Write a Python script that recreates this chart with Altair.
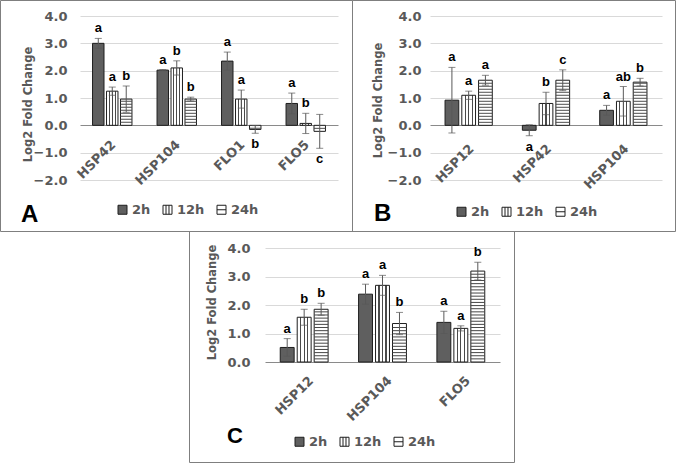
import altair as alt
import numpy as np
import pandas as pd

TIMES = ["2h", "12h", "24h"]

# Panel A
A_GENES = ["HSP42", "HSP104", "FLO1", "FLO5"]
A_2H = [3.00, 2.02, 2.35, 0.80]
A_2H_ERR = [0.18, 0.02, 0.33, 0.38]
A_2H_LET = ["a", "a", "a", "a"]
A_12H = [1.25, 2.10, 0.96, 0.07]
A_12H_ERR = [0.15, 0.26, 0.33, 0.37]
A_12H_LET = ["a", "b", "a", "b"]
A_24H = [0.96, 0.96, -0.15, -0.22]
A_24H_ERR = [0.48, 0.07, 0.14, 0.62]
A_24H_LET = ["b", "b", "b", "c"]

# Panel B
B_GENES = ["HSP12", "HSP42", "HSP104"]
B_2H = [0.92, -0.18, 0.55]
B_2H_ERR = [1.20, 0.20, 0.18]
B_2H_LET = ["a", "a", "a"]
B_12H = [1.10, 0.80, 0.88]
B_12H_ERR = [0.15, 0.41, 0.54]
B_12H_LET = ["a", "b", "ab"]
B_24H = [1.65, 1.65, 1.58]
B_24H_ERR = [0.18, 0.38, 0.14]
B_24H_LET = ["a", "c", "b"]

# Panel C
C_GENES = ["HSP12", "HSP104", "FLO5"]
C_2H = [0.51, 2.38, 1.39]
C_2H_ERR = [0.31, 0.35, 0.39]
C_2H_LET = ["a", "a", "a"]
C_12H = [1.57, 2.69, 1.18]
C_12H_ERR = [0.28, 0.35, 0.09]
C_12H_LET = ["b", "a", "a"]
C_24H = [1.85, 1.35, 3.19]
C_24H_ERR = [0.21, 0.39, 0.31]
C_24H_LET = ["b", "b", "b"]

W, H = 678, 464

FONT = "DejaVu Sans"
LABEL = "#595959"
DARK = "#5f5f5f"
EDGE = "#1e1e1e"
STRIPE = "#4a4a4a"
ERR = "#595959"
GRID = "#d9d9d9"
FRAME = "#7f7f7f"
ZERO = "#8a8a8a"

STRIPE_STEP = 0.11
STRIPE_THICK = 0.036

# vertical hatch used to fill the 12h bars
_hw = 0.04
_stops = [{"offset": 0, "color": "white"}]
for c in (0.25, 0.5, 0.75):
    _stops += [
        {"offset": c - _hw, "color": "white"},
        {"offset": c - _hw, "color": STRIPE},
        {"offset": c + _hw, "color": STRIPE},
        {"offset": c + _hw, "color": "white"},
    ]
_stops.append({"offset": 1, "color": "white"})
VHATCH = {"gradient": "linear", "x1": 0, "x2": 1, "y1": 0, "y2": 0, "stops": _stops}

# legend swatches: solid, vertical hatch, horizontal hatch
SYM_SQ = "M-1,-1H1V1H-1Z"
SYM_V = "M-1,-1H1V1H-1Z M-0.33,-1V1 M0.33,-1V1"
SYM_H = "M-1,-1H1V1H-1Z M-1,0H1"


def make_table(genes, series):
    rows = []
    for t, (vals, errs, lets) in zip(TIMES, series):
        for g, v, e, l in zip(genes, vals, errs, lets):
            rows.append({"gene": g, "t": t, "v": v, "lo": v - e, "hi": v + e, "lab": l})
    return pd.DataFrame(rows)


def make_stripes(genes, vals):
    rows = []
    for g, v in zip(genes, vals):
        sign = 1 if v >= 0 else -1
        for s in np.arange(STRIPE_STEP, abs(v) - 0.03, STRIPE_STEP):
            c = sign * s
            rows.append({"gene": g, "t": "24h", "s0": c - STRIPE_THICK / 2, "s1": c + STRIPE_THICK / 2})
    return pd.DataFrame(rows, columns=["gene", "t", "s0", "s1"])


def panel(genes, series, *, xrange, yrange, ydom, yvals, ylabpad, title_xy,
          xaxis_y, xlabpad, xlaboff, frame, letter, letter_xy, letter_size, legend_xy):
    df = make_table(genes, series)
    sdf = make_stripes(genes, series[2][0])
    one = pd.DataFrame({"k": [0]})

    xscale = alt.Scale(domain=genes, range=xrange, paddingInner=0.35, paddingOuter=0.175)
    xaxis = alt.Axis(
        orient="bottom", offset=xaxis_y - H, title=None, labelAngle=-45, labelAlign="right",
        labelBaseline="top", domain=False, ticks=False, grid=False, labelPadding=xlabpad,
        labelOffset=xlaboff, labelOverlap=False, labelFont=FONT, labelFontSize=13,
        labelFontWeight="bold", labelColor=LABEL,
    )
    X = alt.X("gene:N", sort=genes, scale=xscale, axis=xaxis)
    XO = alt.XOffset("t:N", sort=TIMES,
                     scale=alt.Scale(domain=TIMES, paddingInner=0.18, paddingOuter=0.09))
    yscale = alt.Scale(domain=ydom, range=yrange, nice=False, zero=False)
    yaxis = alt.Axis(
        orient="left", offset=-xrange[0], values=yvals, format=".1f", grid=True,
        gridColor=alt.condition("datum.value == 0", alt.value(ZERO), alt.value(GRID)),
        domain=False, ticks=False, labelPadding=ylabpad, labelFont=FONT, labelFontSize=13,
        labelFontWeight="bold", labelColor=LABEL, title="Log2 Fold Change", titleFont=FONT,
        titleFontSize=11.5, titleFontWeight="bold", titleColor=LABEL,
        titleX=title_xy[0], titleY=title_xy[1],
    )

    def Y(field):
        return alt.Y(field, scale=yscale, axis=yaxis)

    base = alt.Chart(df)

    bars2 = base.transform_filter("datum.t == '2h'").mark_bar(
        fill=DARK, stroke=EDGE, strokeWidth=1
    ).encode(x=X, xOffset=XO, y=Y("v:Q"))
    bars12 = base.transform_filter("datum.t == '12h'").mark_bar(
        fill=VHATCH, stroke=EDGE, strokeWidth=1
    ).encode(x=X, xOffset=XO, y=Y("v:Q"))
    bars24 = base.transform_filter("datum.t == '24h'").mark_bar(
        fill="white", stroke=EDGE, strokeWidth=1
    ).encode(x=X, xOffset=XO, y=Y("v:Q"))
    stripes = alt.Chart(sdf).mark_bar(fill=STRIPE).encode(
        x=X, xOffset=XO, y=Y("s0:Q"), y2="s1:Q"
    )

    err = base.mark_rule(color=ERR, strokeWidth=1).encode(
        x=X, xOffset=XO, y=Y("lo:Q"), y2="hi:Q"
    )
    cap_lo = base.mark_tick(color=ERR, thickness=1, size=7, orient="horizontal").encode(
        x=X, xOffset=XO, y=Y("lo:Q")
    )
    cap_hi = base.mark_tick(color=ERR, thickness=1, size=7, orient="horizontal").encode(
        x=X, xOffset=XO, y=Y("hi:Q")
    )

    txt = dict(font="Liberation Sans", fontSize=13, fontWeight="bold", color="black")
    lab_up = base.transform_filter("datum.v >= 0").mark_text(baseline="bottom", dy=-3, **txt).encode(
        x=X, xOffset=XO, y=Y("hi:Q"), text="lab:N"
    )
    lab_dn = base.transform_filter("datum.v < 0").mark_text(baseline="top", dy=5, **txt).encode(
        x=X, xOffset=XO, y=Y("lo:Q"), text="lab:N"
    )

    leg = alt.Legend(
        title=None, orient="none", legendX=legend_xy[0], legendY=legend_xy[1],
        direction="horizontal", symbolSize=81, symbolStrokeWidth=1, symbolOpacity=1,
        labelFont=FONT, labelFontSize=13, labelFontWeight="bold", labelColor=LABEL,
        labelOffset=3, columnPadding=10, padding=0,
    )
    legend_l = alt.Chart(pd.DataFrame({"t": TIMES})).mark_point(
        filled=True, opacity=0, strokeWidth=1
    ).encode(
        shape=alt.Shape("t:N", sort=TIMES, scale=alt.Scale(domain=TIMES, range=[SYM_SQ, SYM_V, SYM_H]), legend=leg),
        fill=alt.Fill("t:N", sort=TIMES, scale=alt.Scale(domain=TIMES, range=[DARK, "white", "white"]), legend=leg),
        stroke=alt.Stroke("t:N", sort=TIMES, scale=alt.Scale(domain=TIMES, range=[EDGE, EDGE, EDGE]), legend=leg),
    )

    tag = alt.Chart(one).mark_text(
        text=letter, align="left", baseline="alphabetic", font="Liberation Sans",
        fontSize=letter_size, fontWeight="bold", color="black",
    ).encode(x=alt.value(letter_xy[0]), y=alt.value(letter_xy[1]))

    frame_l = alt.Chart(one).mark_rect(fill="transparent", stroke=FRAME, strokeWidth=1).encode(
        x=alt.value(frame[0]), x2=alt.value(frame[1]), y=alt.value(frame[2]), y2=alt.value(frame[3])
    )

    return alt.layer(
        bars2, bars12, bars24, stripes, err, cap_lo, cap_hi,
        lab_up, lab_dn, legend_l, tag, frame_l,
    )


panel_a = panel(
    A_GENES,
    [(A_2H, A_2H_ERR, A_2H_LET), (A_12H, A_12H_ERR, A_12H_LET), (A_24H, A_24H_ERR, A_24H_LET)],
    xrange=[80, 338], yrange=[180, 16], ydom=[-2, 4], yvals=[-2, -1, 0, 1, 2, 3, 4],
    ylabpad=13, title_xy=(-47, 104), xaxis_y=136, xlabpad=2, xlaboff=-3,
    frame=(0.5, 352.5, 0.5, 231.5), letter="A", letter_xy=(21, 222), letter_size=24,
    legend_xy=(116, 203),
)
panel_b = panel(
    B_GENES,
    [(B_2H, B_2H_ERR, B_2H_LET), (B_12H, B_12H_ERR, B_12H_LET), (B_24H, B_24H_ERR, B_24H_LET)],
    xrange=[430, 662], yrange=[180, 16], ydom=[-2, 4], yvals=[-2, -1, 0, 1, 2, 3, 4],
    ylabpad=9, title_xy=(-47, 100), xaxis_y=140, xlabpad=2, xlaboff=-1,
    frame=(352.5, 675.5, 0.5, 231.5), letter="B", letter_xy=(374, 221), letter_size=24,
    legend_xy=(455, 205),
)
panel_c = panel(
    C_GENES,
    [(C_2H, C_2H_ERR, C_2H_LET), (C_12H, C_12H_ERR, C_12H_LET), (C_24H, C_24H_ERR, C_24H_LET)],
    xrange=[265, 500], yrange=[362, 248], ydom=[0, 4], yvals=[0, 1, 2, 3, 4],
    ylabpad=15, title_xy=(-48, 302), xaxis_y=362, xlabpad=12, xlaboff=3,
    frame=(189.5, 514.5, 231.5, 462.5), letter="C", letter_xy=(227, 443), letter_size=22,
    legend_xy=(293, 435),
)

chart = alt.layer(panel_a, panel_b, panel_c).resolve_scale(
    x="independent", y="independent", xOffset="independent",
    fill="independent", shape="independent", stroke="independent",
).resolve_axis(
    x="independent", y="independent"
).resolve_legend(
    fill="independent", shape="independent", stroke="independent"
).properties(
    width=W, height=H, padding=0, background="white",
    autosize=alt.AutoSizeParams(type="none"),
).configure_view(stroke=None)

chart.save("out.html", embed_options={"renderer": "svg", "actions": False})
